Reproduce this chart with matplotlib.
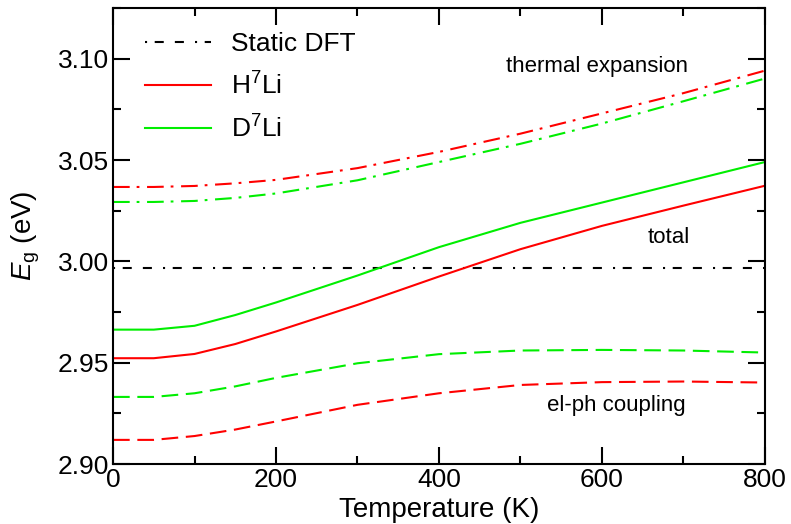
import numpy as np
import matplotlib
matplotlib.use("Agg")
import matplotlib.pyplot as plt
from matplotlib.ticker import MultipleLocator

plt.rcParams['font.family'] = ['Liberation Sans', 'DejaVu Sans']
plt.rcParams['mathtext.fontset'] = 'custom'
plt.rcParams['mathtext.rm'] = 'Liberation Sans'
plt.rcParams['mathtext.it'] = 'Liberation Sans:italic'
plt.rcParams['lines.scale_dashes'] = False

# --- Data (band gap vs temperature) ---
temperature = [0, 50, 100, 150, 200, 300, 400, 500, 600, 700, 800]
static_dft = 2.9966

h7li_total = [2.9522, 2.9522, 2.9543, 2.9592, 2.9654, 2.9785, 2.9925, 3.0060, 3.0175, 3.0275, 3.0373]
d7li_total = [2.9663, 2.9663, 2.9682, 2.9735, 2.9797, 2.9930, 3.0070, 3.0190, 3.0290, 3.0390, 3.0490]

h7li_thermal = [3.0367, 3.0367, 3.0372, 3.0385, 3.0402, 3.0460, 3.0540, 3.0630, 3.0730, 3.0830, 3.0941]
d7li_thermal = [3.0293, 3.0293, 3.0298, 3.0313, 3.0335, 3.0400, 3.0490, 3.0580, 3.0680, 3.0790, 3.0902]

h7li_elph = [2.9119, 2.9119, 2.9138, 2.9170, 2.9210, 2.9292, 2.9349, 2.9390, 2.9404, 2.9407, 2.9402]
d7li_elph = [2.9331, 2.9331, 2.9349, 2.9383, 2.9425, 2.9497, 2.9542, 2.9560, 2.9563, 2.9560, 2.9550]

RED = '#ff0000'
GREEN = '#00ee00'
LW = 1.5

# dash patterns in points
DFT_DASH = (0, (1.5, 5.5, 6.5, 8, 6.5, 8))
DASHDOT = (0, (12, 5, 2, 5.5))
DASHED = (0, (12, 5.5))

fig = plt.figure(figsize=(7.91, 5.24), dpi=100)
ax = fig.add_axes([0.1429, 0.1145, 0.8241, 0.8702])

ax.axhline(static_dft, color='black', lw=LW, linestyle=DFT_DASH, label='Static DFT')
ax.plot(temperature, h7li_total, color=RED, lw=LW, label='H$^7$Li')
ax.plot(temperature, d7li_total, color=GREEN, lw=LW, label='D$^7$Li')
ax.plot(temperature, h7li_thermal, color=RED, lw=LW, linestyle=DASHDOT)
ax.plot(temperature, d7li_thermal, color=GREEN, lw=LW, linestyle=DASHDOT)
ax.plot(temperature, h7li_elph, color=RED, lw=LW, linestyle=DASHED)
ax.plot(temperature, d7li_elph, color=GREEN, lw=LW, linestyle=DASHED)

ax.text(594, 3.096, 'thermal expansion', fontsize=16, ha='center', va='center')
ax.text(682, 3.012, 'total', fontsize=16, ha='center', va='center')
ax.text(618, 2.929, 'el-ph coupling', fontsize=16, ha='center', va='center')

ax.set_xlim(0, 800)
ax.set_ylim(2.90, 3.125)
ax.xaxis.set_major_locator(MultipleLocator(200))
ax.xaxis.set_minor_locator(MultipleLocator(100))
ax.yaxis.set_major_locator(MultipleLocator(0.05))
ax.yaxis.set_minor_locator(MultipleLocator(0.025))
ax.yaxis.set_major_formatter(plt.FormatStrFormatter('%.2f'))

ax.tick_params(which='both', direction='in', top=True, right=True, width=1.5, labelsize=19, pad=3)
ax.tick_params(which='major', length=12)
ax.tick_params(which='minor', length=6)
for sp in ax.spines.values():
    sp.set_linewidth(1.5)

ax.set_xlabel('Temperature (K)', fontsize=20, labelpad=3.5)
ax.set_ylabel('$E_\\mathrm{g}$ (eV)', fontsize=20, labelpad=11)

ax.legend(loc='upper left', bbox_to_anchor=(0.02, 0.987), frameon=False, fontsize=19,
          handlelength=2.5, handletextpad=0.77, labelspacing=0.6, borderaxespad=0.3)

fig.savefig('out.png', dpi=100)
